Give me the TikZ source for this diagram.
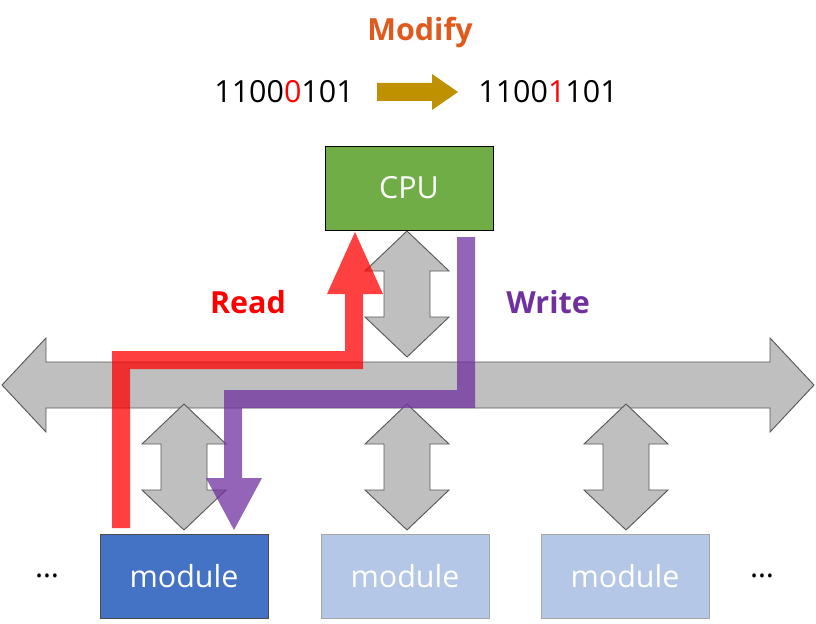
\documentclass[tikz,border=0pt]{standalone}
\usepackage{fontspec}
\setmainfont{Open Sans}
\definecolor{busgray}{HTML}{BFBFBF}
\definecolor{edgegray}{HTML}{595959}
\definecolor{cpugreen}{HTML}{70AD47}
\definecolor{modblue}{HTML}{4472C4}
\definecolor{modlight}{HTML}{B4C7E7}
\definecolor{modorange}{HTML}{E05A1E}
\definecolor{gold}{HTML}{BF9000}
\definecolor{wpurple}{HTML}{7030A0}
\newcommand\vdarrow[3]{% center x, top y, bottom y
  \filldraw[dbl] (#1,#2) -- (#1+42,#2+40) -- (#1+23,#2+40) -- (#1+23,#3-40)
    -- (#1+42,#3-40) -- (#1,#3) -- (#1-42,#3-40) -- (#1-23,#3-40)
    -- (#1-23,#2+40) -- (#1-42,#2+40) -- cycle;}
\begin{document}
\begin{tikzpicture}[x=0.03cm,y=-0.03cm,
  dbl/.style={fill=busgray, draw=edgegray, line width=0.8pt},
  txt/.style={font=\fontsize{26}{30}\selectfont},
  lbl/.style={font=\bfseries\fontsize{26}{30}\selectfont},
  box/.style={minimum width=168*0.03cm, minimum height=84*0.03cm, inner sep=0pt,
    text=white, font=\fontsize{26}{30}\selectfont},
  path/.style={line width=18*0.03cm}]
\useasboundingbox (0,0) rectangle (816,624);
% title and bits
\node[lbl, text=modorange] (mod) at (420,33) {Modify};
\node[txt] (b1) at (284,92) {1100{\color{red}0}101};
\node[txt] (b2) at (548,92) {1100{\color{red}1}101};
\fill[gold] (377,83) -- (432,83) -- (432,74) -- (458,92) -- (432,110) -- (432,101) -- (377,101) -- cycle;
% bus
\filldraw[dbl] (2,385) -- (46,338) -- (46,362) -- (770,362) -- (770,338) -- (814,385)
  -- (770,432) -- (770,408) -- (46,408) -- (46,432) -- cycle;
\vdarrow{407}{231}{357}
\vdarrow{184}{404}{530}
\vdarrow{407}{404}{530}
\vdarrow{626}{404}{530}
% boxes
\node[box, fill=cpugreen, draw=black] (cpu) at (409,188) {CPU};
\node[box, fill=modblue, draw=black!70] (m1) at (184,576) {module};
\node[box, fill=modlight, draw=black!35] (m2) at (405,576) {module};
\node[box, fill=modlight, draw=black!35] (m3) at (625,576) {module};
\node[txt] (d1) at (47,576) {…};
\node[txt] (d2) at (762,576) {…};
% read path
\begin{scope}[transparency group, opacity=0.75]
\draw[path, draw=red] (121,528) -- (121,360) -- (354,360) -- (354,290);
\fill[red] (327,294) -- (383,294) -- (355,232) -- cycle;
\end{scope}
\node[lbl, text=red] (rd) at (248,302) {Read};
% write path
\begin{scope}[transparency group, opacity=0.75]
\draw[path, draw=wpurple] (466,237) -- (466,399) -- (233,399) -- (233,482);
\fill[wpurple] (206,478) -- (262,478) -- (234,530) -- cycle;
\end{scope}
\node[lbl, text=wpurple] (wr) at (548,302) {Write};
\end{tikzpicture}
\end{document}
